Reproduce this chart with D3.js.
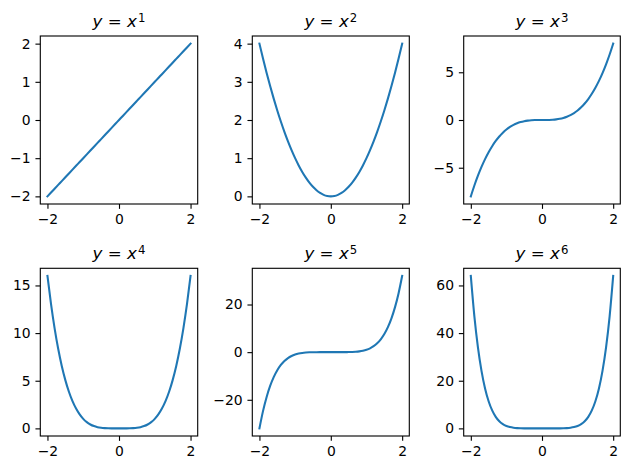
<!DOCTYPE html>
<html><head><meta charset="utf-8">
<script src="https://cdn.jsdelivr.net/npm/d3@7"></script>
<style>body{margin:0;background:#fff}svg{display:block}</style>
</head><body>
<svg id="chart" width="630" height="470"></svg>
<script>
const xValues = [-2.0,-1.9,-1.8,-1.7,-1.6,-1.5,-1.4,-1.3,-1.2,-1.1,-1.0,-0.9,-0.8,-0.7,-0.6,-0.5,-0.4,-0.3,-0.2,-0.1,0.0,0.1,0.2,0.3,0.4,0.5,0.6,0.7,0.8,0.9,1.0,1.1,1.2,1.3,1.4,1.5,1.6,1.7,1.8,1.9,2.0];
const yPow1 = [-2.0,-1.9,-1.8,-1.7,-1.6,-1.5,-1.4,-1.3,-1.2,-1.1,-1.0,-0.9,-0.8,-0.7,-0.6,-0.5,-0.4,-0.3,-0.2,-0.1,0.0,0.1,0.2,0.3,0.4,0.5,0.6,0.7,0.8,0.9,1.0,1.1,1.2,1.3,1.4,1.5,1.6,1.7,1.8,1.9,2.0];
const yPow2 = [4,3.61,3.24,2.89,2.56,2.25,1.96,1.69,1.44,1.21,1,0.81,0.64,0.49,0.36,0.25,0.16,0.09,0.04,0.01,0,0.01,0.04,0.09,0.16,0.25,0.36,0.49,0.64,0.81,1,1.21,1.44,1.69,1.96,2.25,2.56,2.89,3.24,3.61,4];
const yPow3 = [-8,-6.859,-5.832,-4.913,-4.096,-3.375,-2.744,-2.197,-1.728,-1.331,-1,-0.729,-0.512,-0.343,-0.216,-0.125,-0.064,-0.027,-0.008,-0.001,0,0.001,0.008,0.027,0.064,0.125,0.216,0.343,0.512,0.729,1,1.331,1.728,2.197,2.744,3.375,4.096,4.913,5.832,6.859,8];
const yPow4 = [16,13.032,10.498,8.352,6.554,5.063,3.842,2.856,2.074,1.464,1,0.656,0.410,0.240,0.130,0.063,0.026,0.008,0.002,0.0001,0,0.0001,0.002,0.008,0.026,0.063,0.130,0.240,0.410,0.656,1,1.464,2.074,2.856,3.842,5.063,6.554,8.352,10.498,13.032,16];
const yPow5 = [-32,-24.761,-18.896,-14.199,-10.486,-7.594,-5.378,-3.713,-2.488,-1.611,-1,-0.590,-0.328,-0.168,-0.078,-0.031,-0.010,-0.002,-0.0003,0,0,0,0.0003,0.002,0.010,0.031,0.078,0.168,0.328,0.590,1,1.611,2.488,3.713,5.378,7.594,10.486,14.199,18.896,24.761,32];
const yPow6 = [64,47.046,34.012,24.138,16.777,11.391,7.530,4.827,2.986,1.772,1,0.531,0.262,0.118,0.047,0.016,0.004,0.001,0.0001,0,0,0,0.0001,0.001,0.004,0.016,0.047,0.118,0.262,0.531,1,1.772,2.986,4.827,7.530,11.391,16.777,24.138,34.012,47.046,64];
const exponents = ["1","2","3","4","5","6"];
const xTicks = [-2,0,2];
const yTicks1 = [-2,-1,0,1,2];
const yTicks2 = [0,1,2,3,4];
const yTicks3 = [-5,0,5];
const yTicks4 = [0,5,10,15];
const yTicks5 = [-20,0,20];
const yTicks6 = [0,20,40,60];

const series = [yPow1,yPow2,yPow3,yPow4,yPow5,yPow6];
const yTickSets = [yTicks1,yTicks2,yTicks3,yTicks4,yTicks5,yTicks6];

const svg = d3.select("#chart");
const colLeft = [40.3, 252.3, 463.7];
const colRight = [197.7, 409.3, 620.3];
const rowTop = [36, 268.3];
const rowBottom = [204, 436];
const font = "'DejaVu Sans', sans-serif";
const fmt = v => (v < 0 ? "\u2212" + Math.abs(v) : String(v));

series.forEach((ys, i) => {
  const r = Math.floor(i / 3), c = i % 3;
  const L = colLeft[c], R = colRight[c], T = rowTop[r], B = rowBottom[r];
  const xmin = d3.min(xValues), xmax = d3.max(xValues);
  const ymin = d3.min(ys), ymax = d3.max(ys);
  const xm = (xmax - xmin) * 0.05, ym = (ymax - ymin) * 0.05;
  const x = d3.scaleLinear().domain([xmin - xm, xmax + xm]).range([L, R]);
  const y = d3.scaleLinear().domain([ymin - ym, ymax + ym]).range([B, T]);
  const g = svg.append("g");

  const line = d3.line().x((d, k) => x(xValues[k])).y(d => y(d)).curve(d3.curveMonotoneX);
  g.append("path").datum(ys).attr("d", line)
    .attr("fill", "none").attr("stroke", "#1f77b4").attr("stroke-width", 2.08)
    .attr("stroke-linecap", "square").attr("stroke-linejoin", "round");

  g.append("rect").attr("x", L).attr("y", T).attr("width", R - L).attr("height", B - T)
    .attr("fill", "none").attr("stroke", "#000").attr("stroke-width", 1.11);

  const xa = g.append("g").attr("transform", `translate(0,${B})`)
    .call(d3.axisBottom(x).tickValues(xTicks).tickSize(4.86).tickPadding(4.86).tickFormat(fmt));
  const ya = g.append("g").attr("transform", `translate(${L},0)`)
    .call(d3.axisLeft(y).tickValues(yTickSets[i]).tickSize(4.86).tickPadding(4.86).tickFormat(fmt));
  [xa, ya].forEach(a => {
    a.select(".domain").remove();
    a.selectAll(".tick line").attr("stroke", "#000").attr("stroke-width", 1.11);
    a.selectAll(".tick text").attr("fill", "#000").style("font-family", font).style("font-size", "13.9px");
  });
  xa.selectAll(".tick text").attr("dy", "0.76em");

  const t = g.append("text").attr("x", (L + R) / 2).attr("y", T - 9)
    .attr("text-anchor", "middle").style("font-family", font).style("font-size", "16.7px").attr("fill", "#000");
  t.append("tspan").style("font-style", "italic").text("y");
  t.append("tspan").text(" = ");
  t.append("tspan").style("font-style", "italic").text("x");
  t.append("tspan").attr("dy", "-0.42em").attr("dx", "1").style("font-size", "11.7px").text(exponents[i]);
});
</script>
</body></html>
